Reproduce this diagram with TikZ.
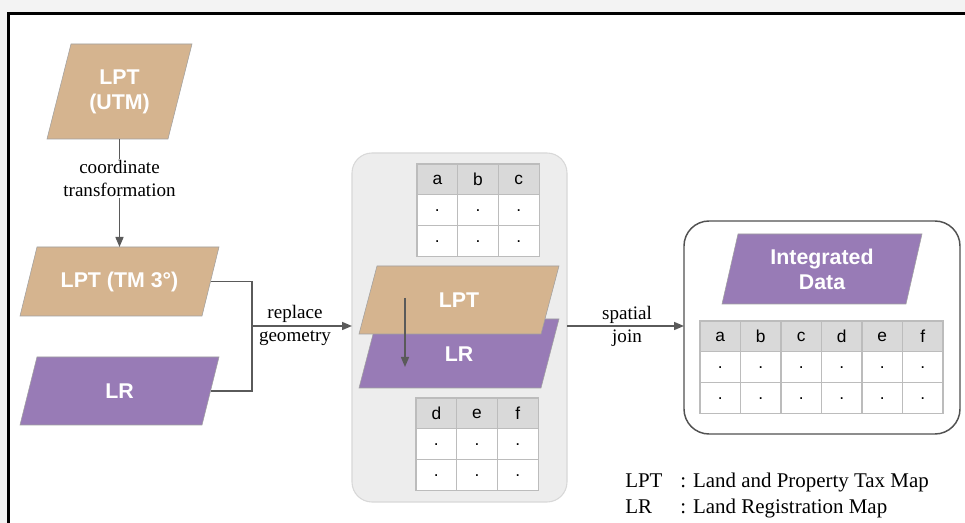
\documentclass[tikz,border=0pt]{standalone}
\usepackage{fontspec}
\setmainfont{Liberation Serif}
\newfontfamily\arialf{Liberation Sans}
\usetikzlibrary{arrows.meta}
\definecolor{tanc}{HTML}{D5B48F}
\definecolor{purp}{HTML}{987BB6}
\definecolor{lnk}{HTML}{5A5A5A}
\definecolor{boxbg}{HTML}{EDEDED}
\definecolor{boxln}{HTML}{D8D8D8}
\definecolor{hdr}{HTML}{D9D9D9}
\definecolor{gridc}{HTML}{BCBCBC}
\definecolor{outerc}{HTML}{F3F3F3}
\definecolor{pedge}{HTML}{A0A0A0}
\tikzset{
  shapelbl/.style={text=white, font=\arialf\bfseries\fontsize{16}{18.75}\selectfont, align=center, inner sep=0pt},
  serif/.style={font=\fontsize{14.3}{17.25}\selectfont, align=center, inner sep=1pt},
  arr/.style={draw=lnk, line width=1.1pt, -{Triangle[length=7.5pt,width=6pt]}},
  conn/.style={draw=lnk, line width=1.1pt},
  cellt/.style={font=\arialf\fontsize{13}{15}\selectfont, inner sep=0pt},
  celld/.style={font=\arialf\fontsize{13}{15}\selectfont, inner sep=0pt, anchor=base},
  legend/.style={font=\fontsize{15.7}{18}\selectfont, anchor=base west, inner sep=0pt},
}
% name, fill, x top-left, y top, x bottom-left, y bottom, width, text
\newcommand\pgram[8]{%
  \filldraw[fill=#2, draw=pedge, line width=0.4pt] (#3,#4) -- ++(#7,0) -- (#5+#7,#6) -- (#5,#6) -- cycle;
  \node[shapelbl] (#1) at ({(#3+#5)/2+#7/2},{(#4+#6)/2}) {#8};
  \coordinate (#1-e) at ({(#3+#5)/2+#7},{(#4+#6)/2});
  \coordinate (#1-n) at ({(#3+#5)/2+#7/2},#4);
  \coordinate (#1-s) at ({(#3+#5)/2+#7/2},#6);
}
% name, x0, y0, cell width, letters
\newcommand\dtable[5]{%
  \foreach \l [count=\i from 0] in {#5} {
    \fill[hdr] ({#2+\i*#4},#3) rectangle ++(#4,30.7);
    \fill[white] ({#2+\i*#4},#3+30.7) rectangle ++(#4,61.4);
    \foreach \r in {0,1,2}
      \draw[gridc, line width=0.8pt] ({#2+\i*#4},{#3+\r*30.7}) rectangle ++(#4,30.7);
    \node[cellt] (#1h\i) at ({#2+\i*#4+#4/2},#3+15.5) {\l};
    \node[celld] (#1a\i) at ({#2+\i*#4+#4/2},#3+48) {.};
    \node[celld] (#1b\i) at ({#2+\i*#4+#4/2},#3+78.7) {.};
  }
}
\begin{document}
\begin{tikzpicture}[x=0.75pt,y=-0.75pt]
\fill[outerc] (0,0) rectangle (965,523);
\useasboundingbox (0,0) rectangle (965,523);
\fill[white] (8.5,13.5) rectangle (965,523);
\draw[black, line width=2pt] (8.5,523) -- (8.5,13.5) -- (965,13.5);

% left column
\pgram{utm}{tanc}{71}{44}{47}{139}{121}{LPT\\(UTM)}
\pgram{tm}{tanc}{37}{247}{20}{316}{182}{LPT (TM 3°)}
\pgram{lr}{purp}{37}{357}{20}{425}{182}{LR}

\draw[arr] (utm-s) -- node[serif, fill=white, pos=0.37] (ct) {coordinate\\transformation} (utm-s |- tm-n);

\coordinate (jn) at (252,326);
\draw[conn] (tm-e) -| (jn);
\draw[conn] (lr-e) -| (jn);

% middle box
\draw[boxln, fill=boxbg, line width=0.8pt, rounded corners=20*0.75pt] (352,153) rectangle (567,502);
\coordinate (mbw) at (352,326);
\coordinate (mbe) at (567,326);
\draw[arr] (jn) -- (mbw);
\node[serif] (rg) at (295,325) {replace\\geometry};

\dtable{ta}{417}{164}{40.7}{a,b,c}
\pgram{mlr}{purp}{377}{319}{359}{388}{182}{}
\node[shapelbl] (mlrt) at (459,354) {LR};
\pgram{mlpt}{tanc}{377}{266}{359}{334}{182}{LPT}
\coordinate (da) at (405,298);
\coordinate (db) at (405,367);
\draw[arr] (da) -- (db);
\dtable{tb}{416}{398}{40.7}{d,e,f}

% right box
\draw[draw=lnk!90!black, fill=white, line width=1.1pt, rounded corners=25*0.75pt] (684,221) rectangle (960,434);
\coordinate (rbw) at (684,326);
\draw[arr] (mbe) -- (rbw);
\node[serif] (sj) at (627,326) {spatial\\join};

\pgram{integ}{purp}{738}{234}{722}{304}{184}{Integrated\\Data}
\dtable{tc}{700}{321}{40.5}{a,b,c,d,e,f}

% legend
\node[legend] (l1a) at (625,488) {LPT};
\node[legend] (l1b) at (680,488) {: Land and Property Tax Map};
\node[legend] (l2a) at (625,514) {LR};
\node[legend] (l2b) at (680,514) {: Land Registration Map};
\end{tikzpicture}
\end{document}
